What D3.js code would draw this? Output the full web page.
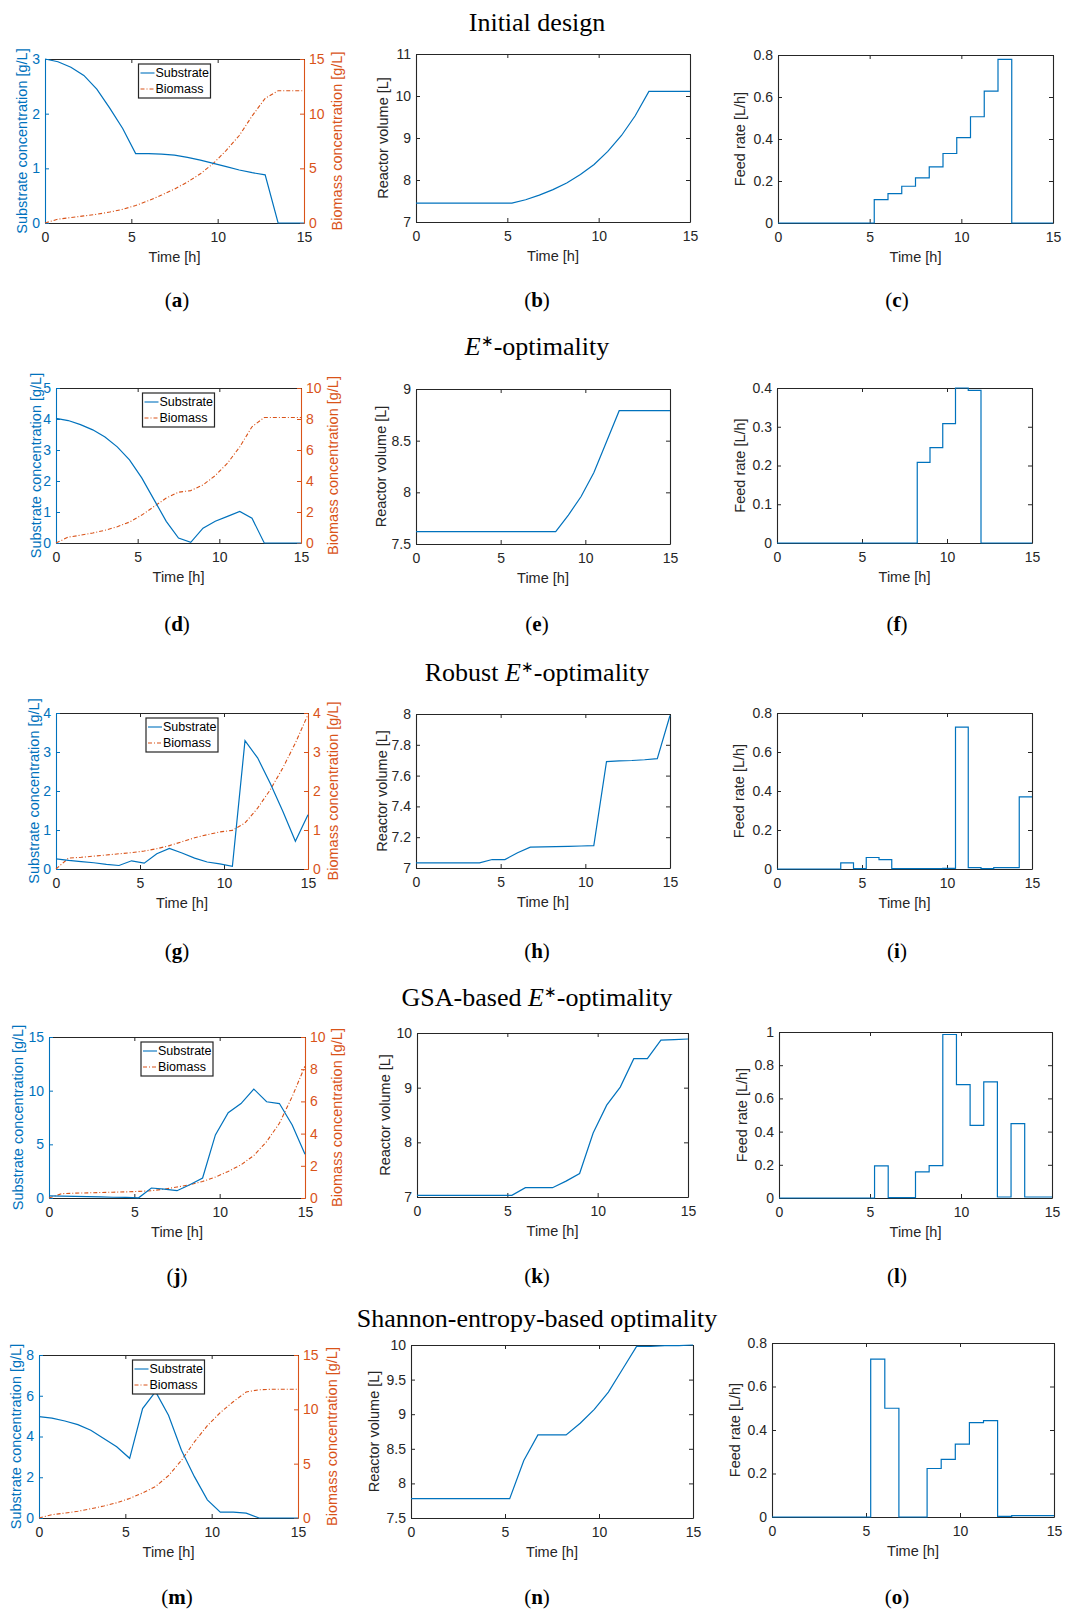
<!DOCTYPE html>
<html>
<head>
<meta charset="utf-8">
<script src="https://cdn.jsdelivr.net/npm/d3@7"></script>
<style>body{margin:0;background:#fff}</style>
</head>
<body>
<script>
// time grid of the design (h)
const time = [0, 0.75, 1.5, 2.25, 3, 3.75, 4.5, 5.25, 6, 6.75, 7.5, 8.25, 9, 9.75, 10.5, 11.25, 12, 12.75, 13.5, 14.25, 15];

// (a)-(c) initial design
const substrateA = [3.00, 2.95, 2.85, 2.70, 2.45, 2.10, 1.73, 1.27, 1.27, 1.26, 1.24, 1.20, 1.15, 1.09, 1.03, 0.97, 0.92, 0.88, 0, 0, 0];
const biomassA = [0, 0.35, 0.5, 0.65, 0.8, 1.0, 1.25, 1.6, 2.05, 2.55, 3.1, 3.75, 4.5, 5.45, 6.65, 8.0, 9.8, 11.4, 12.1, 12.1, 12.1];
const volumeB = [7.45, 7.45, 7.45, 7.45, 7.45, 7.45, 7.45, 7.45, 7.53, 7.64, 7.77, 7.93, 8.13, 8.37, 8.68, 9.06, 9.53, 10.11, 10.11, 10.11, 10.11];
const feedC = [0, 0, 0, 0, 0, 0, 0, 0.111, 0.14, 0.175, 0.215, 0.267, 0.331, 0.407, 0.506, 0.628, 0.779, 0, 0, 0, 0];

// (d)-(f) E*-optimality
const substrateD = [4.02, 3.95, 3.82, 3.65, 3.42, 3.1, 2.68, 2.1, 1.4, 0.7, 0.16, 0.02, 0.48, 0.7, 0.86, 1.02, 0.8, 0, 0, 0, 0];
const biomassD = [0, 0.38, 0.5, 0.65, 0.82, 1.05, 1.35, 1.8, 2.35, 2.9, 3.28, 3.38, 3.75, 4.35, 5.15, 6.2, 7.5, 8.1, 8.1, 8.1, 8.1];
const volumeE = [7.62, 7.62, 7.62, 7.62, 7.62, 7.62, 7.62, 7.62, 7.62, 7.62, 7.62, 7.62, 7.78, 7.96, 8.19, 8.49, 8.79, 8.79, 8.79, 8.79, 8.79];
const feedF = [0, 0, 0, 0, 0, 0, 0, 0, 0, 0, 0, 0.208, 0.246, 0.308, 0.4, 0.394, 0, 0, 0, 0, 0];

// (g)-(i) robust E*-optimality
const substrateG = [0.26, 0.22, 0.19, 0.16, 0.12, 0.09, 0.21, 0.15, 0.39, 0.53, 0.41, 0.28, 0.18, 0.13, 0.07, 3.29, 2.85, 2.2, 1.48, 0.71, 1.39];
const biomassG = [0, 0.28, 0.3, 0.33, 0.36, 0.39, 0.42, 0.46, 0.52, 0.6, 0.7, 0.8, 0.88, 0.95, 0.99, 1.18, 1.56, 2.03, 2.59, 3.23, 3.96];
const volumeH = [7.033, 7.033, 7.033, 7.033, 7.033, 7.033, 7.055, 7.055, 7.099, 7.135, 7.137, 7.139, 7.141, 7.143, 7.145, 7.691, 7.696, 7.698, 7.703, 7.71, 7.99];
const feedI = [0, 0, 0, 0, 0, 0.031, 0.002, 0.059, 0.048, 0.002, 0.002, 0.002, 0.002, 0.003, 0.728, 0.007, 0.002, 0.007, 0.007, 0.37, 0.37];

// (j)-(l) GSA-based E*-optimality
const substrateJ = [0.2, 0.18, 0.15, 0.12, 0.1, 0.07, 0.05, 0.02, 0.93, 0.83, 0.68, 1.24, 1.86, 5.88, 7.95, 8.8, 10.15, 8.97, 8.8, 6.8, 4.08];
const biomassJ = [0, 0.27, 0.3, 0.32, 0.34, 0.36, 0.38, 0.41, 0.45, 0.55, 0.68, 0.82, 1.03, 1.3, 1.65, 2.06, 2.64, 3.5, 4.64, 6.3, 8.19];
const volumeK = [7.03, 7.03, 7.03, 7.03, 7.03, 7.03, 7.03, 7.03, 7.17, 7.17, 7.17, 7.29, 7.43, 8.17, 8.68, 9.01, 9.53, 9.53, 9.87, 9.88, 9.89];
const feedL = [0, 0, 0, 0, 0, 0, 0, 0.193, 0.002, 0.002, 0.157, 0.195, 0.985, 0.683, 0.438, 0.699, 0.006, 0.448, 0.006, 0.006, 0.006];

// (m)-(o) Shannon-entropy-based optimality
const substrateM = [4.98, 4.9, 4.76, 4.58, 4.31, 3.9, 3.5, 2.93, 5.37, 6.2, 5.04, 3.33, 2.03, 0.89, 0.29, 0.29, 0.24, 0, 0, 0, 0];
const biomassM = [0, 0.3, 0.45, 0.62, 0.85, 1.1, 1.4, 1.8, 2.3, 2.9, 3.9, 5.3, 7.0, 8.5, 9.7, 10.7, 11.6, 11.8, 11.85, 11.85, 11.85];
const volumeN = [7.78, 7.78, 7.78, 7.78, 7.78, 7.78, 7.78, 7.78, 8.33, 8.70, 8.70, 8.70, 8.87, 9.07, 9.32, 9.65, 9.98, 9.98, 9.99, 9.99, 10.0];
const feedO = [0, 0, 0, 0, 0, 0, 0, 0.726, 0.5, 0, 0, 0.223, 0.265, 0.335, 0.434, 0.443, 0.003, 0.006, 0.006, 0.006, 0.006];

// tick labels
const timeTicks = [0, 5, 10, 15];
const ticksAL = [0, 1, 2, 3], ticksAR = [0, 5, 10, 15];
const ticksB = [7, 8, 9, 10, 11];
const ticksC = [0, 0.2, 0.4, 0.6, 0.8];
const ticksDL = [0, 1, 2, 3, 4, 5], ticksDR = [0, 2, 4, 6, 8, 10];
const ticksE = [7.5, 8, 8.5, 9];
const ticksF = [0, 0.1, 0.2, 0.3, 0.4];
const ticksGL = [0, 1, 2, 3, 4], ticksGR = [0, 1, 2, 3, 4];
const ticksH = [7, 7.2, 7.4, 7.6, 7.8, 8];
const ticksI = [0, 0.2, 0.4, 0.6, 0.8];
const ticksJL = [0, 5, 10, 15], ticksJR = [0, 2, 4, 6, 8, 10];
const ticksK = [7, 8, 9, 10];
const ticksL = [0, 0.2, 0.4, 0.6, 0.8, 1];
const ticksML = [0, 2, 4, 6, 8], ticksMR = [0, 5, 10, 15];
const ticksN = [7.5, 8, 8.5, 9, 9.5, 10];
const ticksO = [0, 0.2, 0.4, 0.6, 0.8];

const rowTitles = ["Initial design", "E*-optimality", "Robust E*-optimality", "GSA-based E*-optimality", "Shannon-entropy-based optimality"];
const panelLetters = ["a", "b", "c", "d", "e", "f", "g", "h", "i", "j", "k", "l", "m", "n", "o"];

const blue = "#0072BD", orange = "#D95319", dark = "#262626";
const sans = "'Liberation Sans', Arial, Helvetica, sans-serif";
const serif = "'Liberation Serif', 'Times New Roman', serif";

const svg = d3.select("body").append("svg")
    .attr("width", 1065)
    .attr("height", 1610)
    .style("background", "#fff");

// panel boxes [left, right, top, bottom]
const panels = [
  {kind: "conc", box: [45, 304, 59, 223], sub: substrateA, bio: biomassA, lt: ticksAL, rt: ticksAR, lOff: 23, rOff: 33},
  {kind: "vol", box: [416, 690, 54, 222], y: volumeB, t: ticksB, off: 33},
  {kind: "feed", box: [778, 1053, 55, 223], y: feedC, t: ticksC, off: 38},
  {kind: "conc", box: [56, 301, 388, 543], sub: substrateD, bio: biomassD, lt: ticksDL, rt: ticksDR, lOff: 20, rOff: 32},
  {kind: "vol", box: [416, 670, 389, 544], y: volumeE, t: ticksE, off: 35},
  {kind: "feed", box: [777, 1032, 388, 543], y: feedF, t: ticksF, off: 37},
  {kind: "conc", box: [56, 308, 713, 869], sub: substrateG, bio: biomassG, lt: ticksGL, rt: ticksGR, lOff: 22, rOff: 25},
  {kind: "vol", box: [416, 670, 714, 868], y: volumeH, t: ticksH, off: 34},
  {kind: "feed", box: [777, 1032, 713, 869], y: feedI, t: ticksI, off: 38},
  {kind: "conc", box: [49, 305, 1037, 1198], sub: substrateJ, bio: biomassJ, lt: ticksJL, rt: ticksJR, lOff: 31, rOff: 32},
  {kind: "vol", box: [417, 688, 1033, 1197], y: volumeK, t: ticksK, off: 32},
  {kind: "feed", box: [779, 1052, 1032, 1198], y: feedL, t: ticksL, off: 37},
  {kind: "conc", box: [39, 298, 1355, 1518], sub: substrateM, bio: biomassM, lt: ticksML, rt: ticksMR, lOff: 23, rOff: 34},
  {kind: "vol", box: [411, 693, 1345, 1518], y: volumeN, t: ticksN, off: 37},
  {kind: "feed", box: [772, 1054, 1343, 1517], y: feedO, t: ticksO, off: 37}
];

const fmt = d => String(+d.toFixed(2));

function styleAxis(sel, color) {
  sel.attr("color", color)
    .attr("font-family", sans)
    .attr("font-size", 14);
  sel.select(".domain").attr("stroke-width", 1.1);
  sel.selectAll(".tick line").attr("stroke-width", 1);
}

function yLabel(g, x, h, text, color) {
  g.append("text")
    .attr("transform", `translate(${x},${h / 2}) rotate(-90)`)
    .attr("text-anchor", "middle")
    .attr("dy", "0.35em")
    .attr("font-family", sans)
    .attr("font-size", 14.5)
    .attr("fill", color)
    .text(text);
}

function drawPanel(p) {
  const [x0, x1, y0, y1] = p.box;
  const w = x1 - x0, h = y1 - y0;
  const g = svg.append("g").attr("transform", `translate(${x0},${y0})`);
  const x = d3.scaleLinear().domain([0, 15]).range([0, w]);

  const dual = p.kind === "conc";
  const lt = dual ? p.lt : p.t;
  const yL = d3.scaleLinear().domain([lt[0], lt[lt.length - 1]]).range([h, 0]);
  const yR = dual ? d3.scaleLinear().domain([p.rt[0], p.rt[p.rt.length - 1]]).range([h, 0]) : yL;

  g.append("rect").attr("width", w).attr("height", h).attr("fill", "#fff");

  // axes, ticks pointing inward (box on)
  g.append("g").attr("transform", `translate(0,${h})`)
    .call(d3.axisBottom(x).tickValues(timeTicks).tickSize(-4).tickSizeOuter(0).tickPadding(9).tickFormat(fmt))
    .call(s => styleAxis(s, dark));
  g.append("g")
    .call(d3.axisTop(x).tickValues(timeTicks).tickSize(-4).tickSizeOuter(0).tickFormat(""))
    .call(s => styleAxis(s, dark));
  g.append("g")
    .call(d3.axisLeft(yL).tickValues(lt).tickSize(-4).tickSizeOuter(0).tickPadding(5).tickFormat(fmt))
    .call(s => styleAxis(s, dual ? blue : dark));
  g.append("g").attr("transform", `translate(${w},0)`)
    .call(d3.axisRight(yR).tickValues(dual ? p.rt : lt).tickSize(-4).tickSizeOuter(0).tickPadding(5).tickFormat(dual ? fmt : ""))
    .call(s => styleAxis(s, dual ? orange : dark));

  g.append("text")
    .attr("x", w / 2)
    .attr("y", h + 39)
    .attr("text-anchor", "middle")
    .attr("font-family", sans)
    .attr("font-size", 14.5)
    .attr("fill", dark)
    .text("Time [h]");

  if (dual) {
    const subLine = d3.line().x((d, i) => x(time[i])).y(d => yL(d));
    const bioLine = d3.line().x((d, i) => x(time[i])).y(d => yR(d));
    g.append("path").datum(p.bio)
      .attr("d", bioLine).attr("fill", "none")
      .attr("stroke", orange).attr("stroke-width", 1.1)
      .attr("stroke-dasharray", "4,2,1,2");
    g.append("path").datum(p.sub)
      .attr("d", subLine).attr("fill", "none")
      .attr("stroke", blue).attr("stroke-width", 1.2);
    yLabel(g, -p.lOff, h, "Substrate concentration [g/L]", blue);
    yLabel(g, w + p.rOff, h, "Biomass concentration [g/L]", orange);

    // legend, centred at the top of the axes
    const lw = 72, lh = 34;
    const lg = g.append("g").attr("transform", `translate(${w / 2 - lw / 2},5)`);
    lg.append("rect").attr("width", lw).attr("height", lh)
      .attr("fill", "#fff").attr("stroke", dark).attr("stroke-width", 1.2);
    const entries = [["Substrate", blue, null], ["Biomass", orange, "4,2,1,2"]];
    entries.forEach(([name, col, dash], i) => {
      const cy = 9 + i * 16;
      lg.append("line").attr("x1", 2).attr("x2", 16).attr("y1", cy).attr("y2", cy)
        .attr("stroke", col).attr("stroke-width", 1.1)
        .attr("stroke-dasharray", dash);
      lg.append("text").attr("x", 17).attr("y", cy).attr("dy", "0.35em")
        .attr("font-family", sans).attr("font-size", 12.5).attr("fill", "#000")
        .text(name);
    });
  } else {
    const line = d3.line().x((d, i) => x(time[i])).y(d => yL(d));
    if (p.kind === "feed") line.curve(d3.curveStepAfter);
    g.append("path").datum(p.y)
      .attr("d", line).attr("fill", "none")
      .attr("stroke", blue).attr("stroke-width", 1.2);
    yLabel(g, -p.off, h, p.kind === "feed" ? "Feed rate [L/h]" : "Reactor volume [L]", dark);
  }
}

panels.forEach(drawPanel);

// row titles
const titleY = [31, 355, 681, 1006, 1327];
rowTitles.forEach((t, i) => {
  const txt = svg.append("text")
    .attr("x", 537)
    .attr("y", titleY[i])
    .attr("text-anchor", "middle")
    .attr("font-family", serif)
    .attr("font-size", 26)
    .attr("fill", "#000");
  const k = t.indexOf("E*");
  if (k < 0) {
    txt.text(t);
  } else {
    txt.append("tspan").text(t.slice(0, k));
    txt.append("tspan").attr("font-style", "italic").text("E");
    txt.append("tspan").attr("dy", -9).attr("font-size", 15).text("\u2217");
    txt.append("tspan").attr("dy", 9).text(t.slice(k + 2));
  }
});

// sub-figure letters
const labelX = [177, 537, 897];
const labelY = [307, 631, 958, 1283, 1604];
panelLetters.forEach((l, i) => {
  const t = svg.append("text")
    .attr("x", labelX[i % 3])
    .attr("y", labelY[Math.floor(i / 3)])
    .attr("text-anchor", "middle")
    .attr("font-family", serif)
    .attr("font-size", 21)
    .attr("fill", "#000");
  t.append("tspan").text("(");
  t.append("tspan").attr("font-weight", "bold").text(l);
  t.append("tspan").text(")");
});
</script>
</body>
</html>
